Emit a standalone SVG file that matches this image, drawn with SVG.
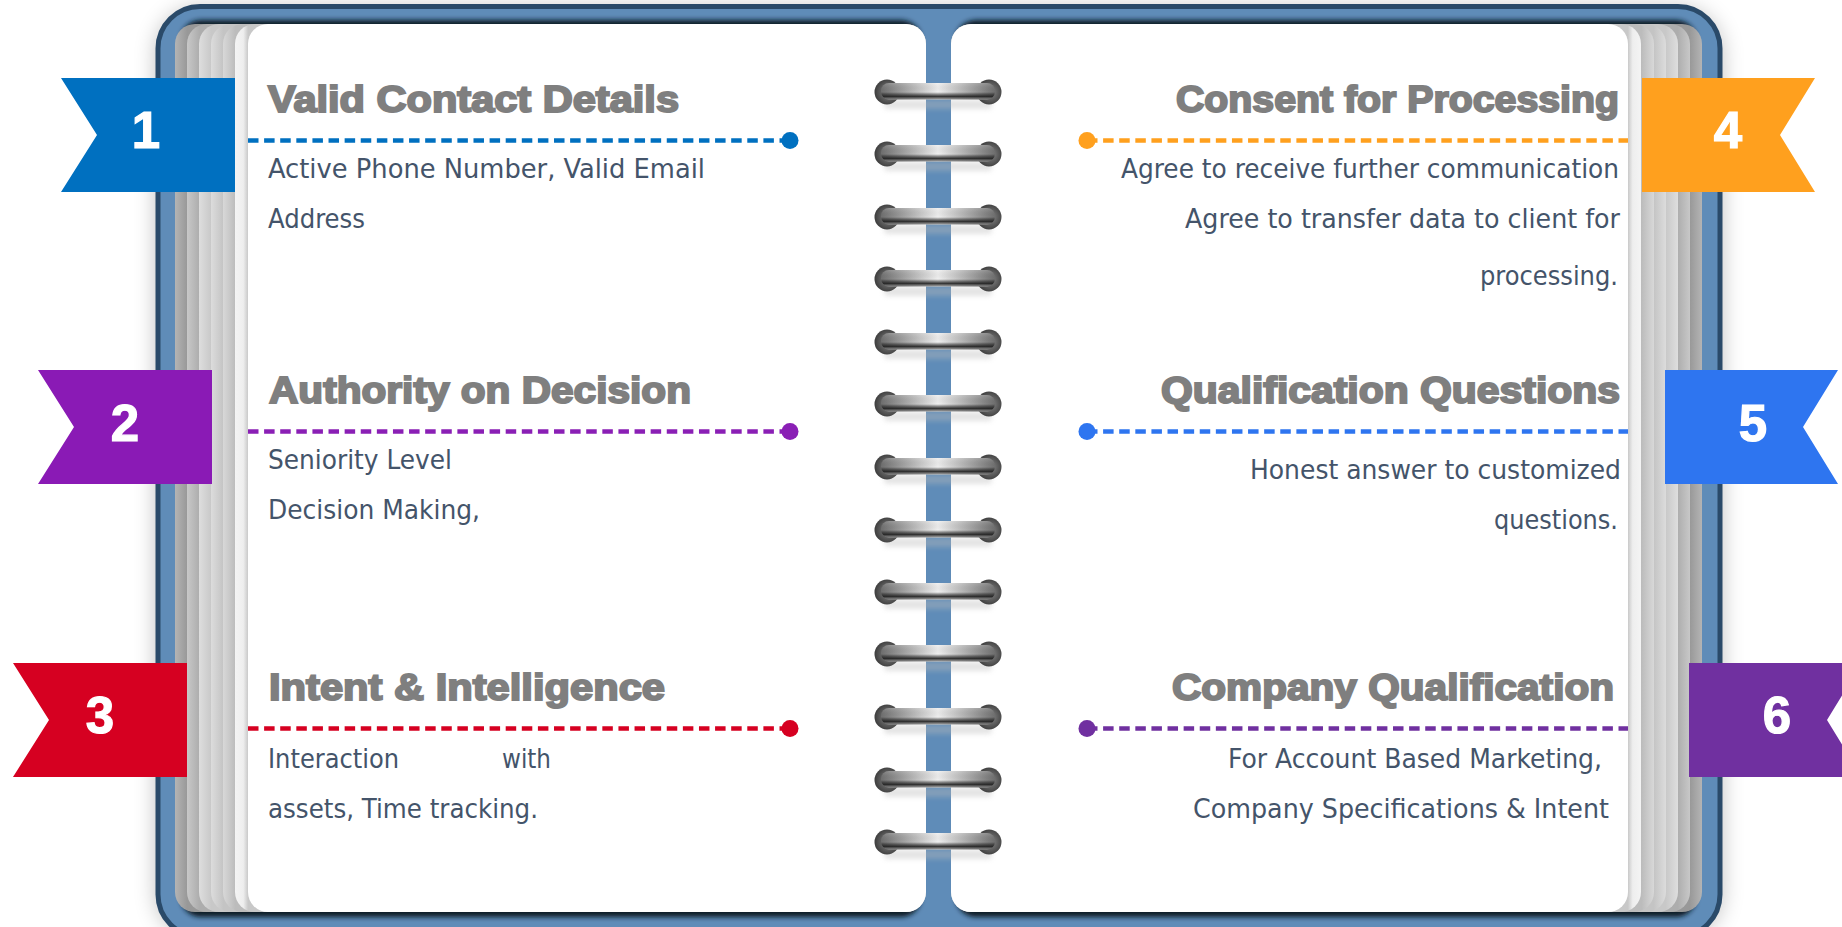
<svg xmlns="http://www.w3.org/2000/svg" xmlns:xlink="http://www.w3.org/1999/xlink" width="1842" height="927" viewBox="0 0 1842 927">
<style>
.h{font-family:"Liberation Sans",Arial,sans-serif;font-weight:700;font-size:37px;fill:#7f7f7f;stroke:#7f7f7f;stroke-width:2px}
.b{font-family:"DejaVu Sans Condensed","DejaVu Sans",sans-serif;font-size:27px;fill:#44546a}
.n{font-family:"Liberation Sans",Arial,sans-serif;font-weight:700;font-size:51px;fill:#fff;stroke:#fff;stroke-width:1.2px;text-anchor:middle}
.c{fill:none;stroke-width:4.500;stroke-dasharray:10.500 5.606}
</style>
<defs>
<filter id="bs" x="-5%" y="-5%" width="110%" height="110%"><feGaussianBlur stdDeviation="11"/></filter>
<filter id="rs" x="-20%" y="-80%" width="140%" height="260%"><feGaussianBlur stdDeviation="2.500"/></filter>
<filter id="ps" x="-3%" y="-3%" width="106%" height="106%"><feGaussianBlur stdDeviation="2.500"/></filter>
<linearGradient id="sL1" x1="0" y1="0" x2="1" y2="0"><stop offset="0" stop-color="#b4b4b4"/><stop offset=".0176" stop-color="#989898"/></linearGradient>
<linearGradient id="sL2" x1="0" y1="0" x2="1" y2="0"><stop offset="0" stop-color="#c8c8c8"/><stop offset=".0176" stop-color="#adadad"/></linearGradient>
<linearGradient id="sL3" x1="0" y1="0" x2="1" y2="0"><stop offset="0" stop-color="#dedede"/><stop offset=".0176" stop-color="#c8c8c8"/></linearGradient>
<linearGradient id="sL4" x1="0" y1="0" x2="1" y2="0"><stop offset="0" stop-color="#dcdcdc"/><stop offset=".0176" stop-color="#c4c4c4"/></linearGradient>
<linearGradient id="sL5" x1="0" y1="0" x2="1" y2="0"><stop offset="0" stop-color="#d8d8d8"/><stop offset=".0176" stop-color="#bcbcbc"/></linearGradient>
<linearGradient id="sL6" x1="0" y1="0" x2="1" y2="0"><stop offset="0" stop-color="#f4f4f4"/><stop offset=".012" stop-color="#eeeeee"/><stop offset=".019" stop-color="#c8c8c8"/></linearGradient>
<linearGradient id="sR1" x1="1" y1="0" x2="0" y2="0"><stop offset="0" stop-color="#b4b4b4"/><stop offset=".0176" stop-color="#989898"/></linearGradient>
<linearGradient id="sR2" x1="1" y1="0" x2="0" y2="0"><stop offset="0" stop-color="#c8c8c8"/><stop offset=".0176" stop-color="#adadad"/></linearGradient>
<linearGradient id="sR3" x1="1" y1="0" x2="0" y2="0"><stop offset="0" stop-color="#dedede"/><stop offset=".0176" stop-color="#c8c8c8"/></linearGradient>
<linearGradient id="sR4" x1="1" y1="0" x2="0" y2="0"><stop offset="0" stop-color="#dcdcdc"/><stop offset=".0176" stop-color="#c4c4c4"/></linearGradient>
<linearGradient id="sR5" x1="1" y1="0" x2="0" y2="0"><stop offset="0" stop-color="#d8d8d8"/><stop offset=".0176" stop-color="#bcbcbc"/></linearGradient>
<linearGradient id="sR6" x1="1" y1="0" x2="0" y2="0"><stop offset="0" stop-color="#f4f4f4"/><stop offset=".012" stop-color="#eeeeee"/><stop offset=".019" stop-color="#c8c8c8"/></linearGradient>
<linearGradient id="bar" x1="0" y1="0" x2="1" y2="0"><stop offset="0" stop-color="#6f6f6f"/><stop offset=".5" stop-color="#f0f0f0"/><stop offset="1" stop-color="#6f6f6f"/></linearGradient>
<linearGradient id="barV" x1="0" y1="0" x2="0" y2="1"><stop offset="0" stop-color="#fff" stop-opacity=".15"/><stop offset=".55" stop-color="#000" stop-opacity="0"/><stop offset=".82" stop-color="#222" stop-opacity=".9"/><stop offset="1" stop-color="#888" stop-opacity=".7"/></linearGradient>
<radialGradient id="ball" cx=".55" cy=".5" r=".55"><stop offset="0" stop-color="#8a8a8a"/><stop offset="1" stop-color="#3c3c3c"/></radialGradient>
<g id="ring">
<rect x="884" y="8" width="108" height="9" rx="4" fill="#bbb" opacity=".4" filter="url(#rs)"/>
<circle cx="887" cy="0" r="12.500" fill="url(#ball)"/>
<circle cx="989" cy="0" r="12.500" fill="url(#ball)"/>
<rect x="881" y="-9" width="114" height="16.500" rx="8" fill="url(#bar)"/>
<rect x="881" y="-9" width="114" height="16.500" rx="8" fill="url(#barV)"/>
</g>
</defs>

<g id="book">
<rect x="156" y="8" width="1566" height="930" rx="44" fill="#000" opacity=".25" filter="url(#bs)"/>
<rect x="158" y="6.500" width="1562" height="930" rx="42" fill="#5f8cb8" stroke="#2a4a69" stroke-width="5"/>
<g filter="url(#ps)" fill="#101a26">
<rect x="181" y="20" width="740" height="897" rx="20"/>
<rect x="956" y="20" width="740" height="897" rx="20"/>
</g>
</g>

<g id="pages-left">
<rect x="175" y="24" width="700" height="888" rx="20" fill="url(#sL1)"/>
<rect x="187" y="24" width="700" height="888" rx="20" fill="url(#sL2)"/>
<rect x="199" y="24" width="700" height="888" rx="20" fill="url(#sL3)"/>
<rect x="211" y="24" width="700" height="888" rx="20" fill="url(#sL4)"/>
<rect x="223" y="24" width="700" height="888" rx="20" fill="url(#sL5)"/>
<rect x="235" y="24" width="691" height="888" rx="20" fill="url(#sL6)"/>
</g>
<g id="pages-right">
<rect x="1002" y="24" width="700" height="888" rx="20" fill="url(#sR1)"/>
<rect x="990" y="24" width="700" height="888" rx="20" fill="url(#sR2)"/>
<rect x="978" y="24" width="700" height="888" rx="20" fill="url(#sR3)"/>
<rect x="966" y="24" width="700" height="888" rx="20" fill="url(#sR4)"/>
<rect x="954" y="24" width="700" height="888" rx="20" fill="url(#sR5)"/>
<rect x="951" y="24" width="690" height="888" rx="20" fill="url(#sR6)"/>
</g>
<g id="page-left"><rect x="248" y="24" width="678" height="888" rx="20" fill="#fff"/></g>
<g id="page-right"><rect x="951" y="24" width="677" height="888" rx="20" fill="#fff"/></g>

<g id="rings">
<use xlink:href="#ring" href="#ring" y="92"/>
<use xlink:href="#ring" href="#ring" y="154"/>
<use xlink:href="#ring" href="#ring" y="217"/>
<use xlink:href="#ring" href="#ring" y="279"/>
<use xlink:href="#ring" href="#ring" y="342"/>
<use xlink:href="#ring" href="#ring" y="404"/>
<use xlink:href="#ring" href="#ring" y="467"/>
<use xlink:href="#ring" href="#ring" y="530"/>
<use xlink:href="#ring" href="#ring" y="592"/>
<use xlink:href="#ring" href="#ring" y="654"/>
<use xlink:href="#ring" href="#ring" y="717"/>
<use xlink:href="#ring" href="#ring" y="780"/>
<use xlink:href="#ring" href="#ring" y="842"/>
</g>

<g id="connectors">
<path class="c" stroke="#0070c0" d="M790 140.500H248"/>
<path class="c" stroke="#8a1fb5" d="M790 431.500H248"/>
<path class="c" stroke="#d60021" d="M790 728.500H248"/>
<path class="c" stroke="#ffa01e" d="M1087 140.500H1628"/>
<path class="c" stroke="#2e75f0" d="M1087 431.500H1628"/>
<path class="c" stroke="#7030a0" d="M1087 728.500H1628"/>
</g>

<g id="node-1">
<path d="M61 78H235V192H61L97 135Z" fill="#0070c0"/>
<text class="n" x="146" y="148">1</text>
<circle cx="790" cy="140.500" r="8.500" fill="#0070c0"/>
<text class="h" x="268" y="112" textLength="411" lengthAdjust="spacingAndGlyphs">Valid Contact Details</text>
<text class="b" x="268" y="178" textLength="437" lengthAdjust="spacingAndGlyphs">Active Phone Number, Valid Email</text>
<text class="b" x="268" y="228" textLength="97" lengthAdjust="spacingAndGlyphs">Address</text>
</g>
<g id="node-2">
<path d="M38 370H212V484H38L74 427Z" fill="#8a1ab5"/>
<text class="n" x="125" y="440.500">2</text>
<circle cx="790" cy="431.500" r="8.500" fill="#8a1fb5"/>
<text class="h" x="269" y="403" textLength="422" lengthAdjust="spacingAndGlyphs">Authority on Decision</text>
<text class="b" x="268" y="469" textLength="184" lengthAdjust="spacingAndGlyphs">Seniority Level</text>
<text class="b" x="268" y="519" textLength="212" lengthAdjust="spacingAndGlyphs">Decision Making,</text>
</g>
<g id="node-3">
<path d="M13 663H187V777H13L49 720Z" fill="#d60021"/>
<text class="n" x="100" y="733">3</text>
<circle cx="790" cy="728.500" r="8.500" fill="#d60021"/>
<text class="h" x="269" y="700" textLength="396" lengthAdjust="spacingAndGlyphs">Intent &amp; Intelligence</text>
<text class="b" x="268" y="768" textLength="131" lengthAdjust="spacingAndGlyphs">Interaction</text>
<text class="b" x="502" y="768" textLength="49" lengthAdjust="spacingAndGlyphs">with</text>
<text class="b" x="268" y="818" textLength="270" lengthAdjust="spacingAndGlyphs">assets, Time tracking.</text>
</g>
<g id="node-4">
<path d="M1642 78H1815L1780 135L1815 192H1642Z" fill="#ffa01e"/>
<text class="n" x="1728" y="148">4</text>
<circle cx="1087" cy="140.500" r="8.500" fill="#ffa01e"/>
<text class="h" x="1176" y="112" textLength="443" lengthAdjust="spacingAndGlyphs">Consent for Processing</text>
<text class="b" x="1121" y="178" textLength="498" lengthAdjust="spacingAndGlyphs">Agree to receive further communication</text>
<text class="b" x="1185" y="228" textLength="435" lengthAdjust="spacingAndGlyphs">Agree to transfer data to client for</text>
<text class="b" x="1480" y="285" textLength="138" lengthAdjust="spacingAndGlyphs">processing.</text>
</g>
<g id="node-5">
<path d="M1665 370H1838L1803 427L1838 484H1665Z" fill="#2e75f0"/>
<text class="n" x="1753" y="440.500">5</text>
<circle cx="1087" cy="431.500" r="8.500" fill="#2e75f0"/>
<text class="h" x="1161" y="403" textLength="459" lengthAdjust="spacingAndGlyphs">Qualification Questions</text>
<text class="b" x="1250" y="479" textLength="371" lengthAdjust="spacingAndGlyphs">Honest answer to customized</text>
<text class="b" x="1494" y="529" textLength="124" lengthAdjust="spacingAndGlyphs">questions.</text>
</g>
<g id="node-6">
<path d="M1689 663H1862L1827 720L1862 777H1689Z" fill="#7030a0"/>
<text class="n" x="1777" y="733">6</text>
<circle cx="1087" cy="728.500" r="8.500" fill="#7030a0"/>
<text class="h" x="1172" y="700" textLength="442" lengthAdjust="spacingAndGlyphs">Company Qualification</text>
<text class="b" x="1228" y="768" textLength="374" lengthAdjust="spacingAndGlyphs">For Account Based Marketing,</text>
<text class="b" x="1193" y="818" textLength="416" lengthAdjust="spacingAndGlyphs">Company Specifications &amp; Intent</text>
</g>
</svg>
